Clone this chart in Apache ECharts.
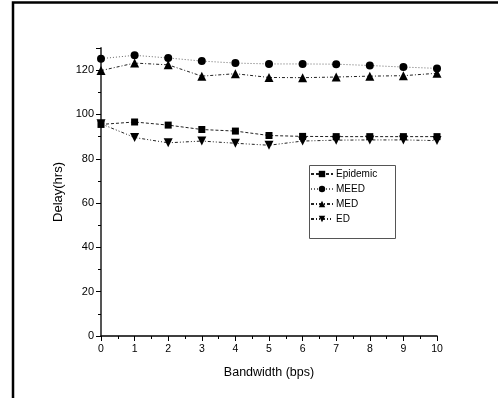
<!DOCTYPE html>
<html><head><meta charset="utf-8">
<script src="https://cdn.jsdelivr.net/npm/echarts@6/dist/echarts.min.js"></script>
<style>html,body{margin:0;padding:0;background:#fff}#c{width:498px;height:398px}</style>
</head><body><div id="c"></div>
<script>
const categories = [0,1,2,3,4,5,6,7,8,9,10];
const epidemic = [95.5,96.6,95.2,93.2,92.5,90.5,90.1,90.0,90.0,90.0,90.0];
const meed = [125.2,126.7,125.5,124.1,123.2,122.8,122.8,122.7,122.1,121.4,120.8];
const med = [119.8,123.2,122.4,117.3,118.4,116.7,116.6,116.9,117.3,117.5,118.6];
const ed = [95.8,89.6,87.2,88.0,87.0,86.1,88.0,88.4,88.5,88.5,88.2];
const yTicks = [0,20,40,60,80,100,120];

const chart = echarts.init(document.getElementById('c'), null, {renderer:'canvas'});
const font = 'Liberation Sans, Arial, sans-serif';
function mk(name, data, sym, rot, dash, col){
  return {name, type:'line', data:categories.map((x,i)=>[x,data[i]]), symbol:sym, symbolRotate:rot||0,
    symbolSize: sym==='rect'?7:(sym==='circle'?8:9),
    lineStyle:{color:col||'#222', width:1, type:dash},
    itemStyle:{color:'#000'}, emphasis:{disabled:true}, z:3, clip:false};
}
chart.setOption({
  animation:false,
  grid:{left:101, right:61, top:48, bottom:62, show:false},
  xAxis:{type:'value', min:0, max:10, interval:1,
    name:'Bandwidth (bps)', nameLocation:'middle', nameGap:30,
    nameTextStyle:{fontFamily:font, fontSize:12.5, color:'#000'},
    axisLine:{lineStyle:{color:'#000', width:1.5}},
    axisTick:{inside:false, length:5, lineStyle:{color:'#000'}},
    minorTick:{show:true, splitNumber:2, length:3, lineStyle:{color:'#000'}},
    axisLabel:{fontFamily:font, fontSize:10.5, color:'#000', margin:8},
    splitLine:{show:false}},
  yAxis:{type:'value', min:0, max:130, interval:20,
    name:'Delay(hrs)', nameLocation:'middle', nameGap:35, nameRotate:90,
    nameTextStyle:{fontFamily:font, fontSize:13, color:'#000'},
    axisLine:{show:true, lineStyle:{color:'#555', width:2}},
    axisTick:{show:true, length:5, lineStyle:{color:'#000'}},
    minorTick:{show:true, splitNumber:2, length:3, lineStyle:{color:'#000'}},
    axisLabel:{fontFamily:font, fontSize:11, color:'#000', margin:7,
      formatter:v=>yTicks.includes(v)?String(v):''},
    splitLine:{show:false}},
  legend:{orient:'vertical', left:305, top:164, itemWidth:22, itemHeight:8, itemGap:5,
    textStyle:{fontFamily:font, fontSize:10, color:'#000', lineHeight:8, padding:[0,0,0,-2]},
    data:['Epidemic','MEED','MED','ED']},
  graphic:[
    {type:'polyline', shape:{points:[[13,398],[13,2.5],[498,2.5]]}, style:{stroke:'#000', lineWidth:2.5, fill:null}},
    {type:'rect', shape:{x:309.5, y:165.5, width:86, height:73}, style:{stroke:'#555', lineWidth:1, fill:null}}
  ],
  series:[
    mk('Epidemic', epidemic, 'rect', 0, [3,2]),
    mk('MEED', meed, 'circle', 0, [1,2], '#666'),
    mk('MED', med, 'triangle', 0, [3,2,1,2]),
    mk('ED', ed, 'triangle', 180, [3,2,1,2,1,2])
  ]
});
</script></body></html>
